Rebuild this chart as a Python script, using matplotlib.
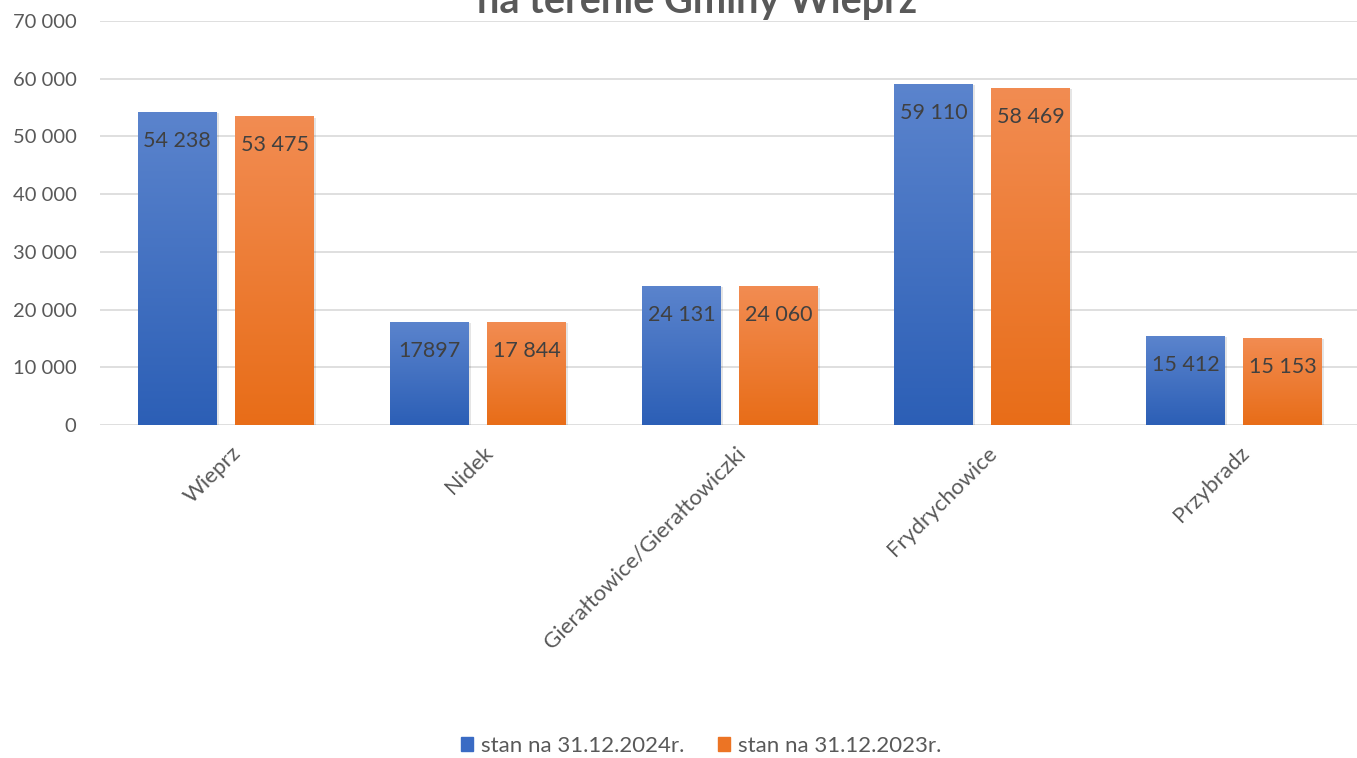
import matplotlib
matplotlib.use("Agg")
import matplotlib.pyplot as plt
import matplotlib.transforms as mtransforms
import matplotlib.patheffects as pe
from matplotlib.colors import LinearSegmentedColormap
import numpy as np

plt.rcParams['font.family'] = ['Lato', 'DejaVu Sans']

categories = ["Wieprz", "Nidek", "Gierałtowice/Gierałtowiczki", "Frydrychowice", "Przybradz"]
series_names = ["stan na 31.12.2024r.", "stan na 31.12.2023r."]
values_2024 = [54238, 17897, 24131, 59110, 15412]
values_2023 = [53475, 17844, 24060, 58469, 15153]
labels_2024 = ["54 238", "17897", "24 131", "59 110", "15 412"]
labels_2023 = ["53 475", "17 844", "24 060", "58 469", "15 153"]
yticks = [0, 10000, 20000, 30000, 40000, 50000, 60000, 70000]
ytick_labels = ["0", "10 000", "20 000", "30 000", "40 000", "50 000", "60 000", "70 000"]
title_text = "na terenie Gminy Wieprz"

W, H = 1357, 758
fig = plt.figure(figsize=(W / 100, H / 100), dpi=100)
ax = fig.add_axes([100 / W, 333 / H, 1260 / W, (425 - 21) / H])

x = np.arange(len(categories))
bw = 0.313
off = 0.193
grads = [("#5b84cd", "#2c5fb6"), ("#f28c52", "#e86d18")]
legend_cols = ["#3a6bc4", "#ec7424"]

ax.set_xlim(-0.5, len(categories) - 0.5)
ax.set_ylim(0, 70000)

for i, (vals, labs) in enumerate([(values_2024, labels_2024), (values_2023, labels_2023)]):
    pos = x + (-off if i == 0 else off)
    bars = ax.bar(pos, vals, width=bw, color=legend_cols[i], zorder=3,
                  label=series_names[i])
    cmap = LinearSegmentedColormap.from_list("g%d" % i, [grads[i][1], grads[i][0]])
    for b, lab in zip(bars, labs):
        b.set_path_effects([pe.SimplePatchShadow(offset=(1.5, -1), shadow_rgbFace='k', alpha=0.1),
                            pe.Normal()])
        x0, y0 = b.get_x(), b.get_y()
        w, h = b.get_width(), b.get_height()
        grad = np.linspace(0, 1, 256).reshape(-1, 1)
        im = ax.imshow(grad, cmap=cmap, origin='lower', aspect='auto',
                       extent=[x0, x0 + w, y0, y0 + h], zorder=4)
        im.set_clip_path(b)
        ax.annotate(lab, (x0 + w / 2, y0 + h), xytext=(0, -29),
                    textcoords='offset pixels', ha='center', va='center',
                    fontsize=15.5, color='#404040', zorder=6)

ax.set_yticks(yticks)
ax.set_yticklabels(ytick_labels, fontsize=14.5, color='#595959')
ax.set_xticks(x)
ax.set_xticklabels([])
offset = mtransforms.ScaledTranslation(12 / 100, -25 / 100, fig.dpi_scale_trans)
for xi, cat in zip(x, categories):
    ax.text(xi, 0, cat, transform=ax.get_xaxis_transform() + offset,
            rotation=45, rotation_mode='anchor', ha='right', va='center',
            fontsize=16, color='#595959', clip_on=False)

ax.tick_params(axis='both', length=0)
ax.tick_params(axis='y', pad=17)
ax.grid(axis='y', color='#d9d9d9', linewidth=1.2, zorder=0)
ax.set_axisbelow(True)
for s in ax.spines.values():
    s.set_visible(False)
ax.set_xlim(-0.5, len(categories) - 0.5)
ax.set_ylim(0, 70000)

fig.text(697 / W, 1 - 13 / H, title_text, ha='center', va='baseline',
         fontsize=28.5, fontweight='bold', color='#595959')

handles = [plt.Rectangle((0, 0), 1, 1, color=legend_cols[0]),
           plt.Rectangle((0, 0), 1, 1, color=legend_cols[1])]
fig.legend(handles, series_names, loc='center', bbox_to_anchor=(701 / W, 1 - 746 / H),
           ncol=2, frameon=False, fontsize=16, handlelength=0.55, handleheight=0.55,
           handletextpad=0.35, columnspacing=1.5, labelcolor='#595959')

fig.savefig("out.png", dpi=100)
